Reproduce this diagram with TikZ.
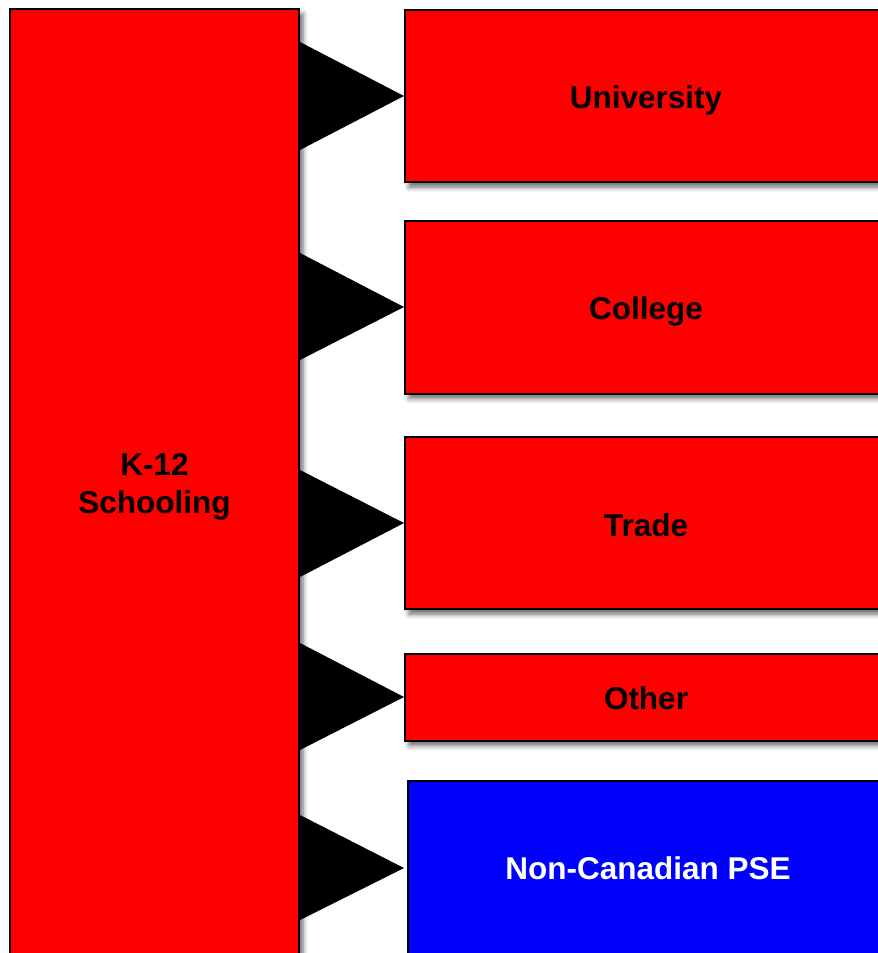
\documentclass[tikz,border=0pt]{standalone}
\usepackage{fontspec}
\setmainfont{Liberation Sans}
\usetikzlibrary{shadows.blur}
\definecolor{boxred}{RGB}{255,0,0}
\definecolor{boxblue}{RGB}{0,0,255}
\newcommand{\boxtxt}[2]{\raisebox{-#1}[0pt][0pt]{#2}}
\begin{document}
\begin{tikzpicture}[x=1pt,y=-1pt,
  box/.style={rectangle, draw=black, line width=2pt, inner sep=0pt,
    font=\fontsize{31.5}{38}\selectfont\bfseries, align=center,
    blur shadow={shadow xshift=4pt, shadow yshift=-5pt, shadow blur radius=5pt, shadow opacity=60}},
  redbox/.style={box, fill=boxred, text=black},
  bluebox/.style={box, fill=boxblue, text=white},
  wedge/.style={fill=black}]
\useasboundingbox (0,0) rectangle (878,953);
\clip (0,0) rectangle (878,953);
\node[redbox, minimum width=289pt, minimum height=948pt] (k12) at (154.5,483) {\boxtxt{30.3pt}{\begin{tabular}[b]{@{}c@{}}K-12\\Schooling\end{tabular}}};
\node[redbox, minimum width=482pt, minimum height=172pt] (uni) at (646,96) {\boxtxt{12.5pt}{University}};
\node[redbox, minimum width=482pt, minimum height=173pt] (col) at (646,307) {\boxtxt{12.5pt}{College}};
\node[redbox, minimum width=482pt, minimum height=172pt] (trade) at (646,523) {\boxtxt{13pt}{Trade}};
\node[redbox, minimum width=482pt, minimum height=87pt] (other) at (646,697) {\boxtxt{12.5pt}{Other}};
\node[bluebox, minimum width=480pt, minimum height=174pt] (nonc) at (648,868) {\boxtxt{11.3pt}{Non-Canadian PSE}};
\coordinate (ncTip) at ([xshift=-3pt]nonc.west);
\fill[wedge] (k12.east |- 0,42) -- (uni.west) -- (k12.east |- 0,150) -- cycle;
\fill[wedge] (k12.east |- 0,253) -- (col.west) -- (k12.east |- 0,360) -- cycle;
\fill[wedge] (k12.east |- 0,470) -- (trade.west) -- (k12.east |- 0,577) -- cycle;
\fill[wedge] (k12.east |- 0,643) -- (other.west) -- (k12.east |- 0,750) -- cycle;
\fill[wedge] (k12.east |- 0,815) -- (ncTip) -- (k12.east |- 0,920) -- cycle;
\end{tikzpicture}
\end{document}
